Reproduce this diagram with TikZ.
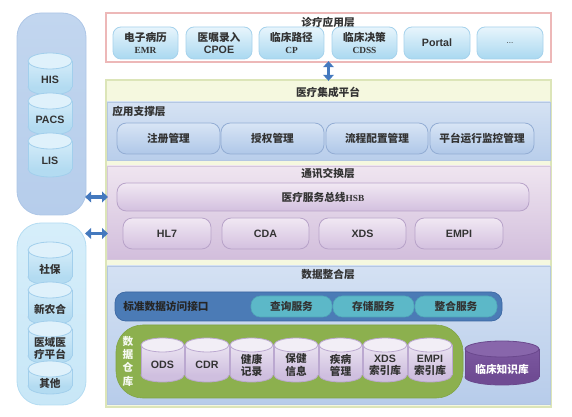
\documentclass[tikz,border=0pt]{standalone}
\usepackage{fontspec}
\setmainfont{Noto Sans CJK SC}
\newfontfamily\lat{Liberation Sans}
\newfontfamily\ser{Liberation Serif}
\usetikzlibrary{arrows.meta,fit}
\definecolor{txt}{HTML}{333333}
\definecolor{pinkb}{HTML}{EDB8B8}
\definecolor{abtop}{HTML}{E8F5FC}
\definecolor{abbot}{HTML}{A9D8F0}
\definecolor{abdr}{HTML}{A6D2EC}
\definecolor{arr}{HTML}{4479BE}
\definecolor{platf}{HTML}{F5F8DF}
\definecolor{platd}{HTML}{DCE5B8}
\definecolor{supt}{HTML}{D5E2F3}
\definecolor{supb}{HTML}{B9CEEB}
\definecolor{supd}{HTML}{B4C7E2}
\definecolor{sbt}{HTML}{D8E5F5}
\definecolor{sbb}{HTML}{AFC7E8}
\definecolor{sbd}{HTML}{93ADD4}
\definecolor{comt}{HTML}{EFE5F0}
\definecolor{comb}{HTML}{D2BEDC}
\definecolor{comd}{HTML}{D5C6DC}
\definecolor{cbt}{HTML}{F1E8F3}
\definecolor{cbb}{HTML}{D3C0DF}
\definecolor{cbd}{HTML}{B8A3C9}
\definecolor{datt}{HTML}{D4E1F3}
\definecolor{datb}{HTML}{B7CCEA}
\definecolor{ifc}{HTML}{4B7BB6}
\definecolor{ifd}{HTML}{3C67A2}
\definecolor{svc}{HTML}{5CB8C8}
\definecolor{svd}{HTML}{4FA6B8}
\definecolor{grn}{HTML}{8CB04E}
\definecolor{grnd}{HTML}{7FA343}
\definecolor{lp1}{HTML}{C2D6EF}
\definecolor{lp1b}{HTML}{B6CDEB}
\definecolor{lp1d}{HTML}{ADC6E6}
\definecolor{lp2}{HTML}{D6EEFA}
\definecolor{lp2b}{HTML}{C8E7F7}
\definecolor{lp2d}{HTML}{B4DCF2}
\definecolor{cAtop}{HTML}{DFF1FB}
\definecolor{cAmt}{HTML}{D4ECF9}
\definecolor{cAb}{HTML}{B3DBF1}
\definecolor{cAd}{HTML}{A2CFEC}
\definecolor{cBtop}{HTML}{F2EEF6}
\definecolor{cBmt}{HTML}{EAE3F1}
\definecolor{cBb}{HTML}{CFBFDF}
\definecolor{cBd}{HTML}{BBA8D0}
\definecolor{cCtop}{HTML}{8866AB}
\definecolor{cCmt}{HTML}{7C58A0}
\definecolor{cCb}{HTML}{6F4B93}
\definecolor{cCd}{HTML}{6A488D}
\newcommand\cyl[8]{%
 \pgfmathsetmacro\cxm{(#2+#4)/2}\pgfmathsetmacro\crx{(#4-#2)/2}%
 \pgfmathsetmacro\cyt{#3+#6}\pgfmathsetmacro\cyb{#5-#6}%
 \pgfmathsetmacro\cyc{(#3+1.5*#6+#5)/2}%
 \path[#7 bot] (\cxm,\cyb) ellipse [x radius=\crx, y radius=#6];
 \path[#7 mid] (#2,\cyt) rectangle (#4,\cyb);
 \path[#7 line] (#2,\cyt) -- (#2,\cyb) (#4,\cyt) -- (#4,\cyb);
 \path[#7 top] (\cxm,\cyt) ellipse [x radius=\crx, y radius=#6];
 \node[#7 text] (#1) at (\cxm,\cyc) {#8};
}
\tikzset{
 lbl/.style={font=\fontsize{8}{9.5}\selectfont\bfseries, text=txt, align=center, inner sep=0pt},
 latl/.style={font=\lat\fontsize{8}{9.5}\selectfont\bfseries, text=txt, align=center, inner sep=0pt},
 box/.style={inner sep=0pt},
 appbtn/.style={box, rounded corners=6pt, draw=abdr, line width=0.6pt, top color=abtop, bottom color=abbot},
 supbtn/.style={box, rounded corners=7pt, draw=sbd, line width=0.6pt, top color=sbt, bottom color=sbb},
 combtn/.style={box, rounded corners=7pt, draw=cbd, line width=0.6pt, top color=cbt, bottom color=cbb},
 svcbtn/.style={box, rounded corners=7pt, fill=svc, draw=svd, line width=0.4pt},
 dbl/.style={draw=arr, line width=2.6pt, {Triangle[length=4.5pt,width=8pt]}-{Triangle[length=4.5pt,width=8pt]}, shorten <=-1pt, shorten >=-1pt},
 cA bot/.style={fill=cAb, draw=cAd, line width=0.6pt},
 cA mid/.style={top color=cAmt, bottom color=cAb},
 cA line/.style={draw=cAd, line width=0.6pt},
 cA top/.style={fill=cAtop, draw=cAd, line width=0.6pt},
 cA text/.style={lbl},
 cB bot/.style={fill=cBb, draw=cBd, line width=0.6pt},
 cB mid/.style={top color=cBmt, bottom color=cBb},
 cB line/.style={draw=cBd, line width=0.6pt},
 cB top/.style={fill=cBtop, draw=cBd, line width=0.6pt},
 cB text/.style={lbl},
 cC bot/.style={fill=cCb, draw=cCd, line width=0.6pt},
 cC mid/.style={top color=cCmt, bottom color=cCb},
 cC line/.style={draw=cCd, line width=0.6pt},
 cC top/.style={fill=cCtop, draw=cCd, line width=0.6pt},
 cC text/.style={lbl, text=white},
}
\begin{document}
\begin{tikzpicture}[x=0.75pt,y=-0.75pt]
\useasboundingbox (0,0) rectangle (572,417);
% left panels
\node[box, fit={(17,13) (86,215)}, rounded corners=18pt, top color=lp1, bottom color=lp1b, draw=lp1d, line width=0.6pt] (p1) {};
\node[box, fit={(17,223) (86,405)}, rounded corners=18pt, top color=lp2, bottom color=lp2b, draw=lp2d, line width=0.6pt] (p2) {};
\cyl{his}{28}{53}{72}{95}{8}{cA}{\lat HIS}
\cyl{pacs}{28}{93}{72}{135}{8}{cA}{\lat PACS}
\cyl{lis}{28}{133}{72}{177}{8}{cA}{\lat LIS}
\cyl{sb}{28}{242}{72}{285}{8}{cA}{社保}
\cyl{xnh}{28}{282}{72}{325}{8}{cA}{新农合}
\cyl{yy}{28}{321}{72}{364}{8}{cA}{医域医\\疗平台}
\cyl{qt}{28}{361}{72}{394}{8}{cA}{其他}
% top application layer
\node[box, fit={(106,13) (551,62)}, draw=pinkb, line width=0.8pt, fill=white] (app) {};
\node[lbl] (appt) at (328,22) {诊疗应用层};
\node[appbtn, fit={(113,27) (178,59)}] (emr) {};
\node[lbl] at (emr.center) {电子病历\\[-1pt]{\ser\fontsize{7}{8}\selectfont EMR}};
\node[appbtn, fit={(186,27) (252,59)}] (cpoe) {};
\node[lbl] at (cpoe.center) {医嘱录入\\[-1pt]{\lat CPOE}};
\node[appbtn, fit={(259,27) (324,59)}] (cp) {};
\node[lbl] at (cp.center) {临床路径\\[-1pt]{\ser\fontsize{7}{8}\selectfont CP}};
\node[appbtn, fit={(332,27) (397,59)}] (cdss) {};
\node[lbl] at (cdss.center) {临床决策\\[-1pt]{\ser\fontsize{7}{8}\selectfont CDSS}};
\node[appbtn, fit={(404,27) (470,59)}] (portal) {};
\node[latl] at (portal.center) {Portal};
\node[appbtn, fit={(477,27) (543,59)}] (more) {};
\node[latl, font=\lat\fontsize{6}{7}\selectfont] at (more.center) {...};
% platform
\node[box, fit={(106,80) (551,407)}, fill=platf, draw=platd, line width=0.8pt] (plat) {};
\node[lbl] (platt) at (328,92) {医疗集成平台};
\draw[dbl] (app.south) -- (plat.north);
% support layer
\node[box, fit={(107,102) (550,160)}, top color=supt, bottom color=supb, draw=supd, line width=0.5pt] (sup) {};
\node[lbl, anchor=west] at (112,111) {应用支撑层};
\node[supbtn, fit={(117,123) (220,154)}] (reg) {};
\node[lbl] at (reg.center) {注册管理};
\node[supbtn, fit={(221,123) (324,154)}] (auth) {};
\node[lbl] at (auth.center) {授权管理};
\node[supbtn, fit={(326,123) (428,154)}] (flow) {};
\node[lbl] at (flow.center) {流程配置管理};
\node[supbtn, fit={(430,123) (534,154)}] (mon) {};
\node[lbl] at (mon.center) {平台运行监控管理};
% communication layer
\node[box, fit={(107,166) (550,259)}, top color=comt, bottom color=comb, draw=comd, line width=0.5pt] (com) {};
\node[lbl] at (328,173) {通讯交换层};
\node[combtn, fit={(117,183) (529,211)}] (hsb) {};
\node[lbl] at (hsb.center) {医疗服务总线{\ser\fontsize{7}{8}\selectfont HSB}};
\node[combtn, fit={(123,218) (211,249)}] (hl7) {};
\node[latl] at (hl7.center) {HL7};
\node[combtn, fit={(222,218) (309,249)}] (cda) {};
\node[latl] at (cda.center) {CDA};
\node[combtn, fit={(319,218) (406,249)}] (xds) {};
\node[latl] at (xds.center) {XDS};
\node[combtn, fit={(415,218) (503,249)}] (empi) {};
\node[latl] at (empi.center) {EMPI};
\draw[dbl] (p1.east |- hsb.center) -- (com.west |- hsb.center);
\draw[dbl] (p2.east |- hl7.center) -- (com.west |- hl7.center);
% data layer
\node[box, fit={(107,266) (550,404)}, top color=datt, bottom color=datb, draw=supd, line width=0.5pt] (dat) {};
\node[lbl] at (328,274) {数据整合层};
\node[box, fit={(115,292) (502,321)}, rounded corners=8pt, fill=ifc, draw=ifd, line width=0.5pt] (ifb) {};
\node[lbl, anchor=west, text=black!85] at (123,306.5) {标准数据访问接口};
\node[svcbtn, fit={(251,296) (332,317)}] (qry) {};
\node[lbl, text=black!80] at (qry.center) {查询服务};
\node[svcbtn, fit={(333,296) (414,317)}] (sto) {};
\node[lbl, text=black!80] at (sto.center) {存储服务};
\node[svcbtn, fit={(415,296) (497,317)}] (itg) {};
\node[lbl, text=black!80] at (itg.center) {整合服务};
\node[box, fit={(116,325) (463,398)}, rounded corners=20pt, fill=grn, draw=grnd, line width=0.4pt] (dw) {};
\node[lbl, text=white!92!grn, font=\fontsize{8}{10}\selectfont\bfseries] at (128,361) {数\\据\\仓\\库};
\cyl{ods}{141}{338}{184}{382}{7}{cB}{\lat ODS}
\cyl{cdr}{185}{338}{229}{382}{7}{cB}{\lat CDR}
\cyl{jkjl}{230}{338}{273}{382}{7}{cB}{健康\\记录}
\cyl{bjxx}{274}{338}{318}{382}{7}{cB}{保健\\信息}
\cyl{jbgl}{319}{338}{362}{382}{7}{cB}{疾病\\管理}
\cyl{xdsidx}{363}{338}{407}{382}{7}{cB}{{\lat XDS}\\索引库}
\cyl{empiidx}{408}{338}{452}{382}{7}{cB}{{\lat EMPI}\\索引库}
\cyl{kb}{465}{341}{539}{385}{8}{cC}{临床知识库}
\end{tikzpicture}
\end{document}
